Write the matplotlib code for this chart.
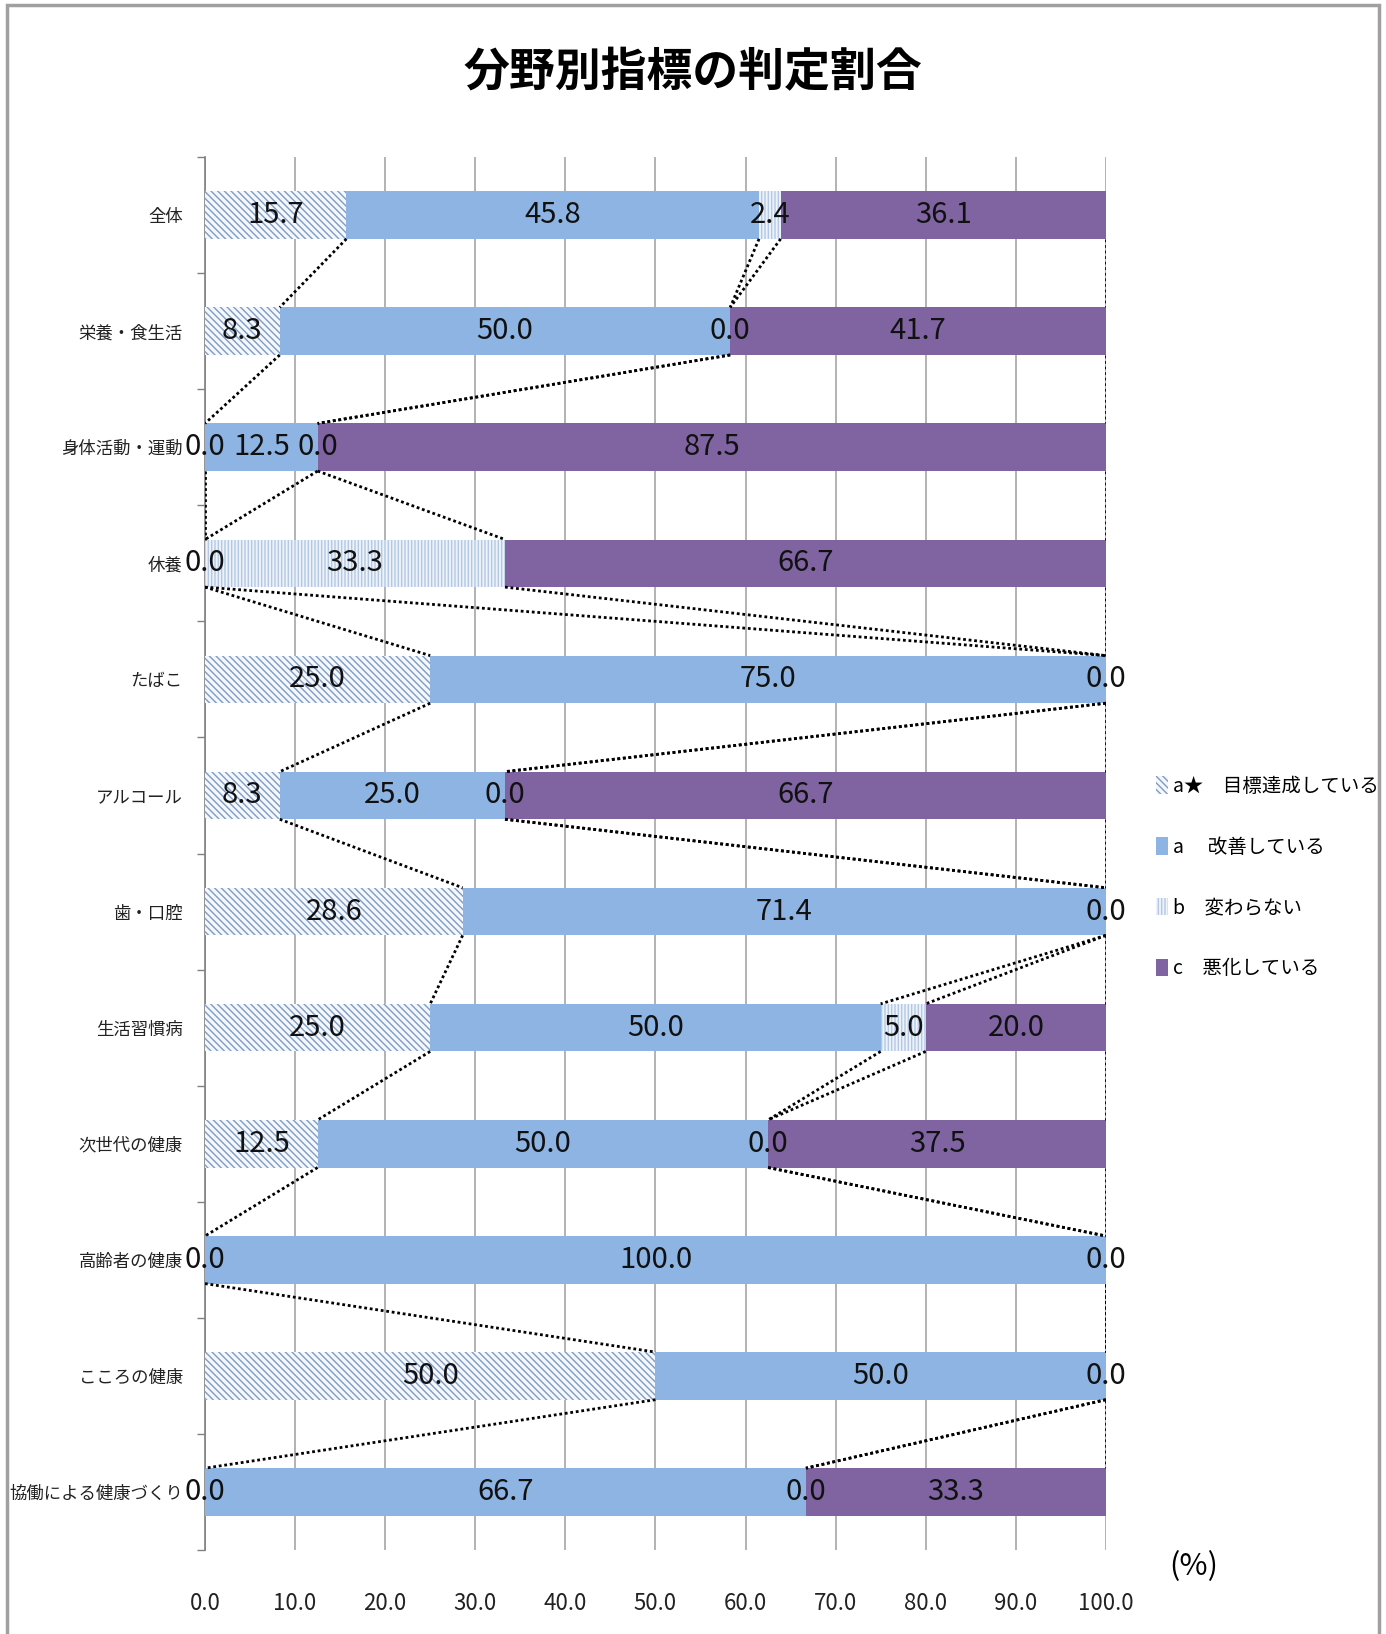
import matplotlib
matplotlib.use("Agg")
import matplotlib.pyplot as plt
from matplotlib.patches import Patch, Rectangle
import numpy as np

plt.rcParams['font.family'] = ['Noto Sans CJK JP', 'DejaVu Sans']
plt.rcParams['hatch.linewidth'] = 1.0

# =====================================================
# Data
# =====================================================

categories = [
    "全体", "栄養・食生活", "身体活動・運動", "休養", "たばこ", "アルコール",
    "歯・口腔", "生活習慣病", "次世代の健康", "高齢者の健康", "こころの健康",
    "協働による健康づくり",
]

# None = no value (blank in the source sheet, no label drawn)
a_star = [15.7, 8.3, 0.0, 0.0, 25.0, 8.3, 28.6, 25.0, 12.5, 0.0, 50.0, 0.0]
a_val = [45.8, 50.0, 12.5, None, 75.0, 25.0, 71.4, 50.0, 50.0, 100.0, 50.0, 66.7]
b_val = [2.4, 0.0, 0.0, 33.3, 0.0, 0.0, 0.0, 5.0, 0.0, 0.0, 0.0, 0.0]
c_val = [36.1, 41.7, 87.5, 66.7, None, 66.7, None, 20.0, 37.5, None, None, 33.3]

series_names = ["a★　目標達成している", "a　 改善している", "b　変わらない", "c　悪化している"]
x_ticks = [0, 10, 20, 30, 40, 50, 60, 70, 80, 90, 100]

# =====================================================
# Styles
# =====================================================

styles = [
    dict(facecolor="#f4f7fb", edgecolor="#7f9cc4", hatch="\\\\\\\\\\"),
    dict(facecolor="#8db4e2", edgecolor="#8db4e2", hatch=None),
    dict(facecolor="#eef3fa", edgecolor="#b3c8e4", hatch="|||||"),
    dict(facecolor="#8064a2", edgecolor="#8064a2", hatch=None),
]

num_font = ['Noto Sans CJK JP', 'DejaVu Sans']

fig = plt.figure(figsize=(13.86, 16.34), dpi=100)
ax = fig.add_axes([0.1479, 0.0514, 0.650, 0.8525])

# frame around the chart area
fig.patches.append(Rectangle((0.005, -0.01), 0.99, 1.007, transform=fig.transFigure,
                             fill=False, edgecolor="#a0a0a0", linewidth=2.5))

y = np.arange(len(categories))
bar_h = 0.41

all_series = [a_star, a_val, b_val, c_val]
left = np.zeros(len(categories))
ends = []

for vals, st, name in zip(all_series, styles, series_names):
    v = np.array([0.0 if x is None else x for x in vals])
    ax.barh(y, v, left=left, height=bar_h, facecolor=st["facecolor"],
            edgecolor=st["edgecolor"], hatch=st["hatch"], linewidth=0,
            zorder=3, label=name)
    for i, raw in enumerate(vals):
        if raw is None:
            continue
        ax.text(left[i] + v[i] / 2, y[i], f"{raw:.1f}", ha="center", va="center",
                fontsize=21, family=num_font, color="#111111", zorder=6)
    left = left + v
    ends.append(left.copy())

# series lines between consecutive bars
for e in ends:
    for i in range(len(categories) - 1):
        ax.plot([e[i], e[i + 1]], [y[i] + bar_h / 2, y[i + 1] - bar_h / 2],
                color="black", linestyle=(0, (1, 1)), linewidth=2.0, zorder=4)

ax.set_xlim(0, 100)
ax.set_ylim(len(categories) - 0.5, -0.5)

ax.set_xticks(x_ticks)
ax.set_xticklabels([f"{t:.1f}" for t in x_ticks], family=num_font, fontsize=16,
                   color="#222222")
ax.tick_params(axis="x", length=0, pad=30)

ax.set_yticks(y)
ax.set_yticklabels(categories, fontsize=12.5, color="#222222")
ax.set_yticks(np.arange(-0.5, len(categories), 1), minor=True)
ax.tick_params(axis="y", which="major", length=0, pad=16)
ax.tick_params(axis="y", which="minor", length=6, color="#808080", width=1)

ax.grid(axis="x", color="#a6a6a6", linewidth=1.2, zorder=0)
ax.set_axisbelow(True)
for s in ["top", "right", "bottom"]:
    ax.spines[s].set_visible(False)
ax.spines["left"].set_color("#808080")
ax.spines["left"].set_linewidth(1.2)

fig.text(0.5, 0.955, "分野別指標の判定割合", ha="center", va="center",
         fontsize=33, fontweight="bold")

handles = [Patch(facecolor=st["facecolor"], edgecolor=st["edgecolor"],
                 hatch=st["hatch"], linewidth=0) for st in styles]
fig.legend(handles, series_names, loc="center left", bbox_to_anchor=(0.834, 0.463),
           frameon=False, fontsize=14, handlelength=0.6, handleheight=1.0,
           handletextpad=0.3, labelspacing=2.05, borderaxespad=0, borderpad=0)

fig.text(0.861, 0.041, "(%)", ha="center", va="center", fontsize=22,
         family=num_font)

fig.savefig("out.png", dpi=100)
